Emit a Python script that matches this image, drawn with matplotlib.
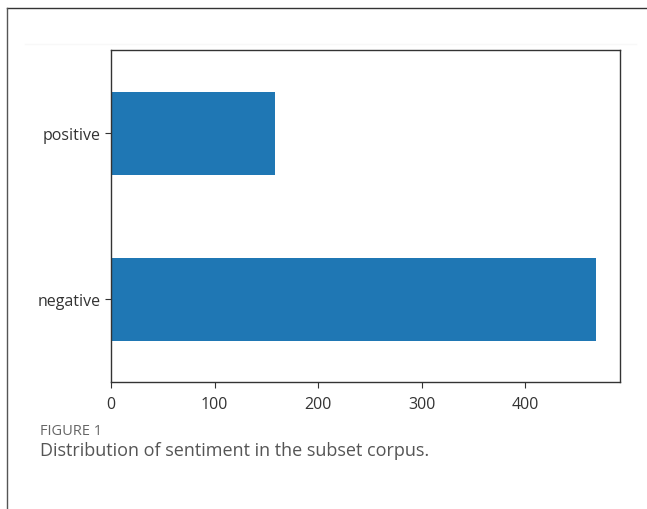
import matplotlib
matplotlib.use("Agg")
import matplotlib.pyplot as plt
from matplotlib.lines import Line2D

categories = ["negative", "positive"]
counts = [468, 158]
xticks = [0, 100, 200, 300, 400]

W, H = 647, 510
fig = plt.figure(figsize=(W / 100, H / 100), dpi=100)
fig.patch.set_facecolor("white")

# outer frame lines (top and left)
fig.add_artist(Line2D([7 / W, 1.0], [1 - 9 / H, 1 - 9 / H], color="#333333", lw=1.0))
fig.add_artist(Line2D([7 / W, 7 / W], [0, 1 - 9 / H], color="#555555", lw=1.0))
# faint band at top of embedded image
fig.add_artist(Line2D([25 / W, 636 / W], [1 - 45 / H, 1 - 45 / H], color="#f8f8f8", lw=1.0))

left, right, top, bottom = 111, 620, 51, 383
ax = fig.add_axes([left / W, 1 - bottom / H, (right - left) / W, (bottom - top) / H])
ax.barh(range(len(categories)), counts, height=0.5, color="#1f77b4")
ax.set_ylim(-0.5, 1.5)
ax.set_xlim(0, max(counts) * 1.05)
ax.set_yticks(range(len(categories)))
ax.set_yticklabels(categories)
ax.set_xticks(xticks)
ax.set_xticklabels([str(t) for t in xticks])
for s in ax.spines.values():
    s.set_color("#333333")
    s.set_linewidth(1.0)
ax.tick_params(labelsize=11.5, colors="#333333", length=4)
ax.tick_params(axis="x", pad=6)
for lbl in ax.get_xticklabels() + ax.get_yticklabels():
    lbl.set_color("#333333")
    lbl.set_family("Open Sans")

fig.text(40 / W, 1 - 432 / H, "FIGURE 1", fontsize=10.5, color="#666666",
         family="Open Sans", va="center", ha="left")
fig.text(40 / W, 1 - 451 / H, "Distribution of sentiment in the subset corpus.",
         fontsize=13, color="#555555", family="Open Sans", va="center", ha="left")

fig.savefig("out.png", dpi=100)
